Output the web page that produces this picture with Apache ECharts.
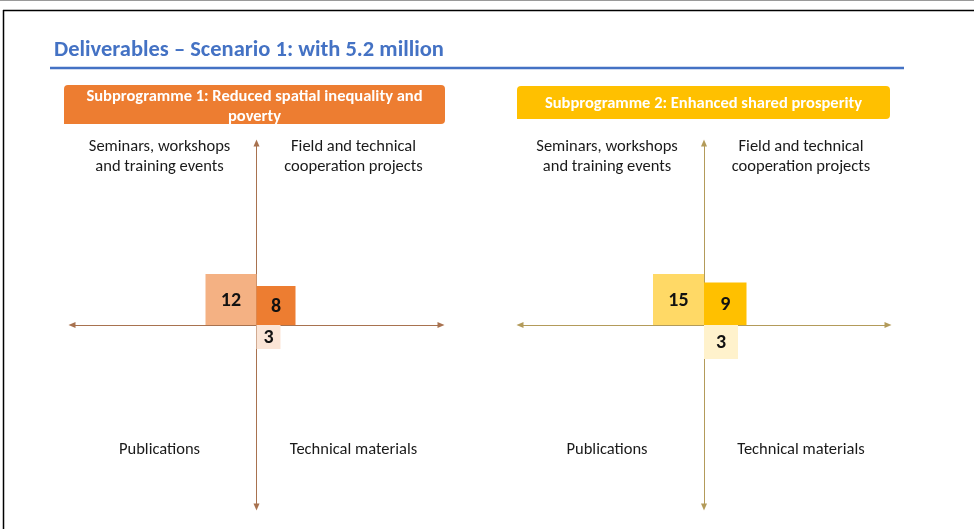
<!DOCTYPE html>
<html>
<head>
<meta charset="utf-8">
<script src="https://cdn.jsdelivr.net/npm/echarts@6/dist/echarts.min.js"></script>
<style>
  html, body { margin: 0; padding: 0; background: #fff; }
  #main { width: 974px; height: 529px; }
</style>
</head>
<body>
<div id="main"></div>
<script>
// quadrant categories (top-left, top-right, bottom-left, bottom-right)
const quadrants = [
  'Seminars, workshops\nand training events',
  'Field and technical\ncooperation projects',
  'Publications',
  'Technical materials'
];
const quadX = [-1, 1, -1, 1];
const quadY = [1, 1, -1, -1];

const pageTitle = 'Deliverables \u2013 Scenario 1: with 5.2 million';
const panelTitles = [
  'Subprogramme 1: Reduced spatial inequality and\npoverty',
  'Subprogramme 2: Enhanced shared prosperity'
];

// number of deliverables per quadrant
const deliverables1 = [12, 8, null, 3];
const deliverables2 = [15, 9, null, 3];

const FONT = 'Carlito, Lato, "Noto Sans", sans-serif';

// layout + style of the two panels
const panels = [
  {
    values: deliverables1,
    left: 72, width: 369, top: 143, height: 364,
    box: [64, 85, 381, 39], boxColor: '#ED7D31', titleY: 107,
    axisColor: '#A8724F',
    colors: ['#F4B183', '#ED7D31', '#F4B183', '#FBE5D6'],
    sizeRange: [24, 51]
  },
  {
    values: deliverables2,
    left: 520, width: 368, top: 143, height: 364,
    box: [517, 86, 373, 33], boxColor: '#FFC000', titleY: 104,
    axisColor: '#B39B5A',
    colors: ['#FFD966', '#FFC000', '#FFD966', '#FFF2CC'],
    sizeRange: [34, 51]
  }
];

const chart = echarts.init(document.getElementById('main'));

function renderSquare(panel) {
  const vals = panel.values.filter(v => v != null);
  const domain = [Math.min.apply(null, vals), Math.max.apply(null, vals)];
  return function (params, api) {
    const v = api.value(2);
    if (isNaN(v)) return;
    const o = api.coord([0, 0]);
    const side = echarts.number.linearMap(v, domain, panel.sizeRange, true);
    const x = api.value(0) < 0 ? o[0] - side : o[0];
    const y = api.value(1) > 0 ? o[1] - side : o[1];
    return {
      type: 'group',
      children: [
        {
          type: 'rect',
          shape: { x: x, y: y, width: side, height: side },
          style: { fill: panel.colors[params.dataIndex] }
        },
        {
          type: 'text',
          style: {
            text: String(v), x: x + side / 2, y: y + side / 2 + 1,
            align: 'center', verticalAlign: 'middle',
            font: 'bold 20px ' + FONT, fill: '#111'
          }
        }
      ]
    };
  };
}

const grids = [], xAxes = [], yAxes = [], series = [];
const graphics = [
  // slide frame
  { type: 'line', shape: { x1: 0, y1: 0.5, x2: 974, y2: 0.5 }, style: { stroke: '#9a9a9a', lineWidth: 1 } },
  { type: 'line', shape: { x1: 3, y1: 10.5, x2: 974, y2: 10.5 }, style: { stroke: '#000', lineWidth: 1.5 } },
  { type: 'line', shape: { x1: 3.5, y1: 10, x2: 3.5, y2: 529 }, style: { stroke: '#000', lineWidth: 1.5 } },
  // title underline
  { type: 'line', shape: { x1: 50, y1: 68, x2: 904, y2: 68 }, style: { stroke: '#4472C4', lineWidth: 2.5 } }
];

panels.forEach(function (p, i) {
  grids.push({ left: p.left, top: p.top, width: p.width, height: p.height });
  const axisLine = {
    show: true, onZero: true,
    symbol: ['triangle', 'triangle'], symbolSize: [6, 7],
    lineStyle: { color: p.axisColor, width: 1 }
  };
  xAxes.push({
    type: 'value', gridIndex: i, min: -1, max: 1,
    axisLine: axisLine, axisTick: { show: false }, axisLabel: { show: false }, splitLine: { show: false }
  });
  yAxes.push({
    type: 'value', gridIndex: i, min: -1, max: 1,
    axisLine: axisLine, axisTick: { show: false }, axisLabel: { show: false }, splitLine: { show: false }
  });
  series.push({
    type: 'custom', xAxisIndex: i, yAxisIndex: i, z: 1,
    renderItem: renderSquare(p),
    data: p.values.map((v, k) => [quadX[k], quadY[k], v == null ? '-' : v])
  });

  // header box
  graphics.push({
    type: 'rect',
    shape: { x: p.box[0], y: p.box[1], width: p.box[2], height: p.box[3], r: [4, 4, 4, 0] },
    style: { fill: p.boxColor }
  });
  graphics.push({
    type: 'text',
    style: {
      text: panelTitles[i], x: p.box[0] + p.box[2] / 2, y: p.titleY,
      align: 'center', verticalAlign: 'middle', lineHeight: 20,
      font: 'bold 16.5px ' + FONT, fill: '#fff'
    }
  });

  // quadrant labels
  const cx = p.left + p.width / 2;
  quadrants.forEach(function (q, k) {
    graphics.push({
      type: 'text',
      style: {
        text: q, x: cx + quadX[k] * 97, y: quadY[k] > 0 ? 157 : 450,
        align: 'center', verticalAlign: 'middle', lineHeight: 20,
        font: '16.5px ' + FONT, fill: '#1a1a1a'
      }
    });
  });
});

chart.setOption({
  animation: false,
  title: {
    text: pageTitle, left: 49, top: 34,
    textStyle: { color: '#4472C4', fontSize: 22.5, fontWeight: 'bold', fontFamily: FONT }
  },
  grid: grids,
  xAxis: xAxes,
  yAxis: yAxes,
  series: series,
  graphic: graphics
});
</script>
</body>
</html>
